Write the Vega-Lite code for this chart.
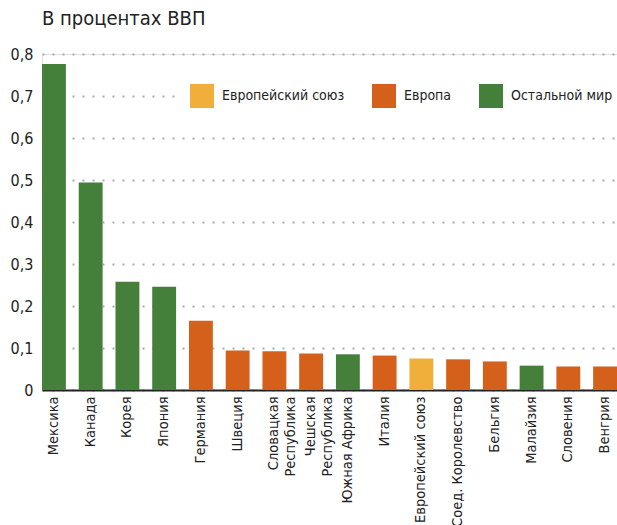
{
  "$schema": "https://vega.github.io/schema/vega-lite/v6.json",
  "autosize": {"type": "none"},
  "padding": {"left": 42, "top": 54, "right": 0, "bottom": 135},
  "width": 575,
  "height": 336,
  "background": "white",
  "config": {"font": "'DejaVu Sans Condensed', 'Liberation Sans', sans-serif"},
  "title": {
    "text": "В процентах ВВП",
    "anchor": "start",
    "frame": "group",
    "font": "'DejaVu Sans Condensed', 'Liberation Sans', sans-serif",
    "fontSize": 20,
    "fontWeight": "normal",
    "color": "#222222",
    "offset": 17
  },
  "data": {
    "values": [
      {"country": "Мексика", "value": 0.776, "group": "Остальной мир"},
      {"country": "Канада", "value": 0.494, "group": "Остальной мир"},
      {"country": "Корея", "value": 0.258, "group": "Остальной мир"},
      {"country": "Япония", "value": 0.246, "group": "Остальной мир"},
      {"country": "Германия", "value": 0.165, "group": "Европа"},
      {"country": "Швеция", "value": 0.094, "group": "Европа"},
      {"country": "Словацкая Республика", "value": 0.092, "group": "Европа"},
      {"country": "Чешская Республика", "value": 0.087, "group": "Европа"},
      {"country": "Южная Африка", "value": 0.085, "group": "Остальной мир"},
      {"country": "Италия", "value": 0.082, "group": "Европа"},
      {"country": "Европейский союз", "value": 0.075, "group": "Европейский союз"},
      {"country": "Соед. Королевство", "value": 0.073, "group": "Европа"},
      {"country": "Бельгия", "value": 0.068, "group": "Европа"},
      {"country": "Малайзия", "value": 0.058, "group": "Остальной мир"},
      {"country": "Словения", "value": 0.056, "group": "Европа"},
      {"country": "Венгрия", "value": 0.056, "group": "Европа"}
    ]
  },
  "mark": {"type": "bar"},
  "encoding": {
    "x": {
      "field": "country",
      "type": "nominal",
      "sort": null,
      "scale": {"paddingInner": 0.35, "paddingOuter": 0},
      "axis": {
        "title": null,
        "labelAngle": -90,
        "labelAlign": "right",
        "labelBaseline": "middle",
        "labelFontSize": 14.5,
        "labelColor": "#222222",
        "labelPadding": 6,
        "labelLineHeight": 17,
        "labelExpr": "indexof(datum.value, 'Республика') > 0 ? split(datum.value, ' ') : datum.value",
        "ticks": false,
        "domainColor": "#222222",
        "domainWidth": 2,
        "labelOverlap": false,
        "labelLimit": 0
      }
    },
    "y": {
      "field": "value",
      "type": "quantitative",
      "scale": {"domain": [0, 0.8], "nice": false},
      "axis": {
        "title": null,
        "values": [0, 0.1, 0.2, 0.3, 0.4, 0.5, 0.6, 0.7, 0.8],
        "labelExpr": "replace(format(datum.value, '.1~f'), '.', ',')",
        "labelFontSize": 16,
        "labelColor": "#222222",
        "labelPadding": 9,
        "ticks": false,
        "domain": false,
        "grid": true,
        "gridColor": "#aaaaaa",
        "gridDash": [2, 8],
        "gridWidth": 2
      }
    },
    "color": {
      "field": "group",
      "type": "nominal",
      "scale": {
        "domain": ["Европейский союз", "Европа", "Остальной мир"],
        "range": ["#f0ae3b", "#d4601b", "#44803a"]
      },
      "legend": {
        "title": null,
        "orient": "none",
        "legendX": 140,
        "legendY": 22,
        "direction": "horizontal",
        "symbolType": "square",
        "symbolSize": 576,
        "symbolStrokeWidth": 0,
        "labelFontSize": 14,
        "labelColor": "#222222",
        "labelOffset": 8,
        "columnPadding": 27,
        "fillColor": "white",
        "padding": 8,
        "labelLimit": 0
      }
    }
  }
}
